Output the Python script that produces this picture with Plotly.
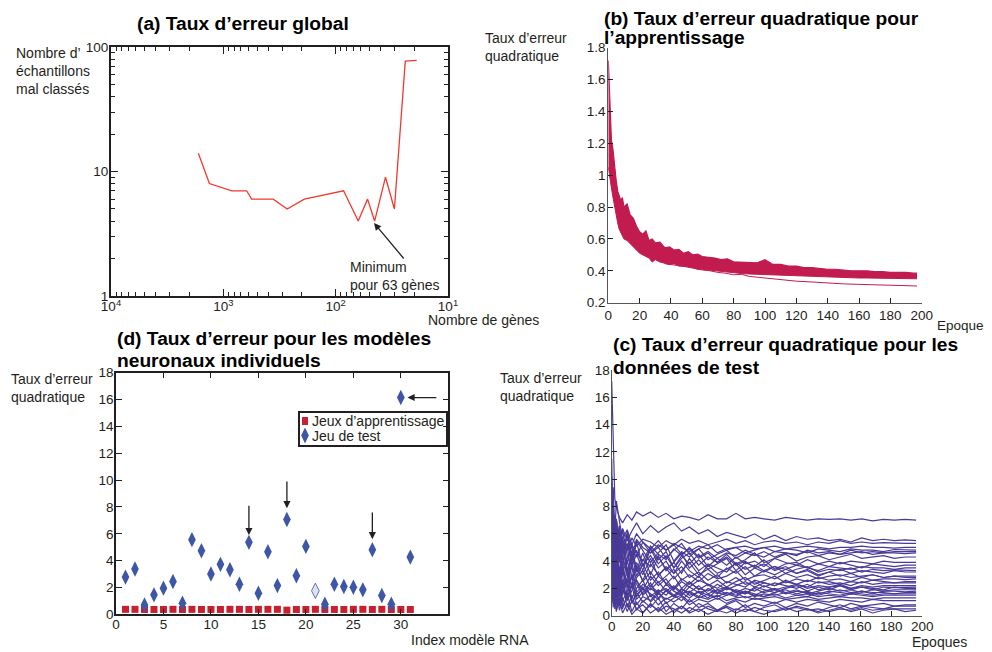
import plotly.graph_objects as go

W, H = 992, 652
OFF = 8  # page body margin of the viewer
FONT = "Liberation Sans, Arial, Helvetica, sans-serif"
INK = "#231f20"

# ---------------- (a) Taux d'erreur global ----------------
genes_a = [1670, 1330, 840, 620, 560, 360, 270, 190, 85, 63, 52, 45, 36, 30, 24, 19]
misclassified_a = [14, 8, 7, 7, 6, 6, 5, 6, 7, 4, 6, 4, 9, 5, 77, 78]
a_xtick_vals = [10000, 1000, 100, 10]
a_xtick_text = ["10<sup>4</sup>", "10<sup>3</sup>", "10<sup>2</sup>", "10<sup>1</sup>"]
a_ytick_vals = [1, 10, 100]
a_ytick_text = ["1", "10", "100"]

# ---------------- (b) apprentissage ----------------
epochs_b = [0, 1, 2, 3, 4, 5, 6, 7, 8, 9,
            10, 12, 14, 16, 18, 20, 22, 24, 26, 28,
            30, 33, 36, 39, 42, 45, 48, 51, 54, 57,
            60, 64, 68, 72, 76, 80, 85, 90, 95, 100,
            105, 110, 115, 120, 125, 130, 135, 140, 145, 150,
            155, 160, 165, 170, 175, 180, 185, 190, 195, 197]
train_upper_b = [1.72, 1.40, 1.22, 1.16, 1.04, 0.97, 0.90, 0.87, 0.84, 0.86,
                 0.80, 0.82, 0.75, 0.73, 0.68, 0.645, 0.63, 0.65, 0.59, 0.60,
                 0.575, 0.58, 0.545, 0.55, 0.53, 0.535, 0.51, 0.52, 0.50, 0.505,
                 0.49, 0.485, 0.48, 0.47, 0.475, 0.457, 0.455, 0.45, 0.45, 0.47,
                 0.44, 0.44, 0.43, 0.43, 0.42, 0.42, 0.415, 0.41, 0.41, 0.405,
                 0.40, 0.40, 0.40, 0.395, 0.395, 0.39, 0.39, 0.39, 0.385, 0.385]
train_lower_b = [1.05, 0.97, 0.92, 0.86, 0.80, 0.74, 0.70, 0.66, 0.64, 0.63,
                 0.60, 0.59, 0.57, 0.55, 0.53, 0.51, 0.50, 0.49, 0.48, 0.455,
                 0.47, 0.455, 0.445, 0.44, 0.445, 0.43, 0.43, 0.425, 0.42, 0.41,
                 0.41, 0.405, 0.40, 0.395, 0.39, 0.385, 0.383, 0.38, 0.378, 0.375,
                 0.373, 0.371, 0.369, 0.367, 0.366, 0.365, 0.362, 0.36, 0.36, 0.358,
                 0.357, 0.355, 0.355, 0.354, 0.353, 0.352, 0.352, 0.351, 0.35, 0.35]
epochs_b_low = [36, 40, 45, 50, 55, 60, 65, 70, 75, 80, 85, 90, 95, 100, 105,
                110, 120, 130, 140, 150, 160, 170, 180, 190, 197]
train_low_b = [0.445, 0.44, 0.43, 0.425, 0.415, 0.405, 0.40, 0.39, 0.385, 0.375,
               0.378, 0.365, 0.36, 0.355, 0.35, 0.345, 0.335, 0.33, 0.322, 0.318,
               0.315, 0.312, 0.31, 0.307, 0.305]
b_xtick_vals = [0, 20, 40, 60, 80, 100, 120, 140, 160, 180, 200]
b_ytick_vals = [0.2, 0.4, 0.6, 0.8, 1.0, 1.2, 1.4, 1.6, 1.8]
b_ytick_text = ["0.2", "0.4", "0.6", "0.8", "1", "1.2", "1.4", "1.6", "1.8"]

# ---------------- (c) test ----------------
epochs_c = [0, 1, 2, 3, 5, 7, 10, 13, 16, 20,
            25, 30, 35, 40, 45, 50, 56, 62, 68, 74,
            80, 86, 92, 98, 105, 112, 119, 126, 133, 140,
            147, 154, 161, 168, 175, 182, 189, 196]
test_c01 = [17.2, 12.5, 8.6, 7.9, 7.2, 6.8, 7.4, 7.0, 7.6, 7.3,
            7.6, 7.2, 7.5, 7.1, 7.3, 7.2, 7.0, 7.4, 7.1, 7.1,
            7.5, 7.1, 7.2, 7.1, 7.0, 7.2, 7.1, 7.0, 7.1, 7.05,
            7.1, 7.0, 7.1, 6.95, 7.05, 7.0, 7.05, 7.0]
test_c02 = [9.3, 7.5, 6.1, 7.0, 5.8, 6.4, 5.5, 6.2, 6.8, 6.0,
            6.6, 6.1, 6.5, 6.8, 6.2, 6.5, 6.0, 6.3, 5.8, 6.1,
            5.9, 5.7, 6.0, 5.6, 5.9, 5.5, 5.8, 5.6, 5.7, 5.5,
            5.6, 5.4, 5.7, 5.5, 5.6, 5.5, 5.55, 5.5]
test_c03 = [7.5, 5.5, 6.8, 4.6, 6.3, 5.2, 4.8, 5.7, 5.1, 5.6,
            5.4, 5.0, 5.5, 5.2, 5.6, 5.3, 5.5, 5.2, 5.4, 5.6,
            5.3, 5.5, 5.2, 5.4, 5.5, 5.3, 5.4, 5.2, 5.4, 5.3,
            5.5, 5.3, 5.4, 5.3, 5.35, 5.3, 5.3, 5.3]
test_c04 = [8.2, 6.0, 4.1, 5.5, 6.6, 4.7, 5.3, 4.4, 5.6, 5.0,
            4.6, 5.2, 4.8, 5.3, 5.0, 4.7, 5.1, 4.9, 5.2, 4.8,
            5.0, 5.1, 4.9, 5.0, 5.1, 4.9, 5.0, 5.1, 5.0, 4.9,
            5.0, 5.0, 5.1, 5.0, 5.0, 4.95, 5.0, 5.0]
test_c05 = [6.2, 7.8, 5.1, 3.5, 5.7, 4.2, 6.0, 4.9, 4.3, 5.4,
            4.6, 5.0, 4.2, 4.8, 5.3, 4.5, 4.9, 5.2, 4.6, 4.9,
            5.0, 4.6, 4.8, 5.0, 4.7, 4.9, 4.8, 4.6, 4.9, 4.8,
            4.7, 4.9, 4.8, 4.8, 4.7, 4.85, 4.8, 4.8]
test_c06 = [5.3, 3.9, 6.2, 7.1, 4.5, 5.8, 3.8, 5.2, 4.6, 4.0,
            5.1, 4.5, 4.1, 4.9, 4.4, 5.0, 4.3, 4.7, 4.2, 4.6,
            4.4, 4.8, 4.5, 4.3, 4.7, 4.6, 4.4, 4.8, 4.6, 4.7,
            4.5, 4.8, 4.6, 4.7, 4.6, 4.7, 4.7, 4.7]
test_c07 = [4.2, 9.4, 5.8, 3.2, 4.9, 6.3, 4.4, 3.6, 5.5, 4.8,
            3.9, 4.6, 5.2, 4.0, 4.7, 4.3, 4.9, 4.1, 4.5, 4.8,
            4.2, 4.6, 4.4, 4.7, 4.3, 4.6, 4.5, 4.7, 4.4, 4.6,
            4.5, 4.6, 4.7, 4.5, 4.6, 4.6, 4.55, 4.6]
test_c08 = [10.2, 6.6, 3.4, 5.4, 3.0, 4.8, 5.9, 3.7, 4.5, 3.3,
            4.9, 3.8, 4.4, 3.5, 4.2, 4.6, 3.7, 4.3, 3.9, 4.5,
            3.8, 4.1, 4.6, 3.9, 4.2, 4.5, 4.0, 4.3, 4.4, 4.1,
            4.3, 4.5, 4.2, 4.3, 4.4, 4.2, 4.3, 4.3]
test_c09 = [6.8, 4.4, 2.6, 5.0, 6.1, 3.1, 4.3, 5.3, 3.2, 4.1,
            3.6, 4.4, 3.3, 3.9, 4.6, 3.5, 4.1, 3.4, 3.8, 4.2,
            3.3, 3.9, 3.6, 4.1, 3.4, 3.8, 3.9, 3.5, 3.8, 3.6,
            3.9, 3.7, 3.5, 3.8, 3.7, 3.6, 3.7, 3.7]
test_c10 = [3.6, 5.2, 7.4, 4.1, 2.4, 3.8, 5.1, 2.7, 3.9, 3.0,
            4.2, 2.9, 3.6, 3.1, 4.0, 3.3, 2.8, 3.7, 3.1, 3.4,
            3.8, 3.0, 3.5, 3.2, 3.6, 3.1, 3.4, 3.6, 3.2, 3.4,
            3.3, 3.5, 3.2, 3.4, 3.3, 3.35, 3.3, 3.3]
test_c11 = [8.9, 3.3, 4.7, 2.2, 5.6, 3.5, 2.4, 4.6, 3.4, 2.6,
            3.8, 3.0, 3.5, 2.7, 3.3, 3.9, 3.0, 3.4, 2.8, 3.5,
            3.1, 3.6, 2.9, 3.3, 3.0, 3.4, 3.1, 3.3, 2.9, 3.2,
            3.4, 3.1, 3.3, 3.2, 3.1, 3.3, 3.2, 3.2]
test_c12 = [2.5, 6.9, 3.9, 5.8, 2.3, 4.4, 3.0, 2.2, 3.7, 2.5,
            3.2, 2.4, 2.9, 3.4, 2.6, 3.0, 2.5, 3.1, 2.7, 2.9,
            3.3, 2.6, 2.9, 3.0, 2.7, 3.1, 2.8, 3.0, 2.7, 2.9,
            3.0, 2.8, 2.9, 3.0, 2.8, 2.9, 2.9, 2.9]
test_c13 = [5.9, 2.1, 3.2, 1.6, 3.6, 2.2, 4.1, 2.0, 2.8, 3.3,
            2.1, 2.9, 2.4, 2.0, 2.7, 2.3, 2.9, 2.2, 2.6, 2.1,
            2.5, 2.8, 2.3, 2.6, 2.9, 2.4, 2.7, 2.5, 2.8, 2.6,
            2.7, 2.5, 2.8, 2.6, 2.7, 2.7, 2.65, 2.7]
test_c14 = [1.8, 4.6, 2.9, 6.4, 3.1, 1.5, 2.8, 3.6, 1.7, 2.3,
            1.9, 2.5, 1.8, 2.2, 1.7, 2.4, 2.0, 1.8, 2.3, 1.9,
            2.2, 2.5, 2.1, 2.4, 2.2, 2.6, 2.3, 2.1, 2.5, 2.3,
            2.4, 2.2, 2.5, 2.3, 2.4, 2.4, 2.35, 2.4]
test_c15 = [7.1, 4.0, 1.9, 2.8, 4.8, 2.0, 1.5, 3.0, 2.3, 1.6,
            2.2, 1.7, 2.0, 1.5, 1.9, 1.7, 2.2, 1.6, 1.9, 2.1,
            1.7, 2.0, 1.8, 2.2, 1.9, 2.1, 2.3, 2.0, 2.2, 2.1,
            2.3, 2.0, 2.2, 2.1, 2.2, 2.2, 2.2, 2.2]
test_c16 = [4.8, 1.2, 2.4, 3.9, 1.4, 2.6, 1.1, 1.9, 2.6, 1.5,
            2.0, 1.6, 2.3, 1.8, 1.5, 2.1, 1.7, 1.9, 1.6, 2.0,
            1.8, 1.6, 2.1, 1.9, 1.7, 2.0, 2.2, 1.8, 2.1, 1.9,
            2.2, 2.0, 2.1, 1.9, 2.1, 2.05, 2.1, 2.1]
test_c17 = [1.2, 3.0, 5.1, 2.0, 0.9, 3.2, 2.2, 1.3, 2.0, 2.6,
            1.4, 1.9, 1.5, 2.1, 1.6, 1.8, 1.4, 2.0, 1.7, 1.5,
            1.9, 1.7, 1.5, 1.8, 2.0, 1.7, 1.9, 1.6, 1.8, 2.0,
            1.8, 1.9, 1.7, 1.9, 1.8, 1.9, 1.9, 1.9]
test_c18 = [9.6, 2.7, 1.0, 4.4, 2.5, 1.1, 1.8, 2.9, 1.2, 1.7,
            2.4, 1.3, 1.8, 1.4, 2.0, 1.5, 1.7, 1.3, 1.9, 1.6,
            1.4, 1.8, 1.6, 1.4, 1.7, 1.9, 1.6, 1.8, 1.5, 1.7,
            1.9, 1.7, 1.8, 1.6, 1.8, 1.8, 1.75, 1.8]
test_c19 = [3.3, 8.2, 2.0, 0.8, 2.7, 1.6, 3.5, 1.0, 1.5, 2.1,
            1.0, 1.6, 1.2, 1.5, 1.1, 1.7, 1.3, 1.6, 1.2, 1.5,
            1.7, 1.3, 1.5, 1.4, 1.6, 1.3, 1.5, 1.6, 1.4, 1.5,
            1.4, 1.6, 1.5, 1.4, 1.5, 1.5, 1.5, 1.5]
test_c20 = [2.1, 0.6, 3.7, 1.4, 3.3, 0.7, 1.3, 2.2, 0.8, 1.4,
            1.1, 1.8, 0.9, 1.3, 1.5, 1.0, 1.4, 1.2, 1.5, 1.1,
            1.3, 1.4, 1.2, 1.3, 1.4, 1.2, 1.3, 1.4, 1.2, 1.3,
            1.4, 1.3, 1.3, 1.2, 1.3, 1.3, 1.3, 1.3]
test_c21 = [6.5, 1.7, 0.5, 2.3, 1.0, 2.4, 0.6, 1.5, 0.4, 1.1,
            0.6, 1.3, 0.3, 0.9, 0.5, 1.2, 0.6, 0.9, 0.4, 0.8,
            1.1, 0.6, 0.9, 0.7, 1.0, 0.6, 0.9, 0.7, 1.0, 0.8,
            0.6, 0.9, 0.7, 0.8, 0.9, 0.7, 0.8, 0.8]
test_c22 = [1.0, 2.8, 1.3, 0.3, 1.9, 0.5, 1.6, 0.3, 1.0, 0.2,
            0.8, 0.4, 1.0, 0.2, 0.7, 0.3, 0.9, 0.5, 0.3, 0.7,
            0.4, 0.8, 0.3, 0.6, 0.8, 0.4, 0.7, 0.5, 0.3, 0.6,
            0.8, 0.5, 0.7, 0.6, 0.5, 0.7, 0.7, 0.7]
test_c23 = [4.0, 0.9, 2.1, 0.4, 1.2, 0.2, 0.9, 0.1, 0.5, 0.8,
            0.2, 0.6, 0.1, 0.4, 0.7, 0.2, 0.5, 0.1, 0.4, 0.6,
            0.2, 0.5, 0.3, 0.1, 0.4, 0.6, 0.3, 0.5, 0.2, 0.4,
            0.6, 0.3, 0.5, 0.2, 0.4, 0.5, 0.3, 0.4]
test_c24 = [8.0, 7.2, 6.0, 8.4, 6.9, 5.6, 6.3, 5.2, 6.0, 5.4,
            4.9, 5.5, 4.8, 5.2, 4.5, 4.9, 4.2, 4.6, 3.9, 4.3,
            3.7, 4.0, 3.5, 3.8, 3.3, 3.6, 3.1, 3.4, 3.0, 3.2,
            2.9, 3.1, 2.8, 3.0, 2.8, 2.9, 2.8, 2.8]
test_c25 = [7.7, 5.4, 7.0, 5.0, 6.1, 4.6, 5.2, 4.1, 4.8, 3.7,
            4.4, 3.5, 4.0, 3.1, 3.6, 2.8, 3.2, 2.6, 3.0, 2.4,
            2.8, 2.3, 2.5, 2.1, 2.4, 2.2, 2.0, 2.3, 1.9, 2.1,
            2.2, 1.9, 2.1, 2.0, 1.9, 2.1, 2.0, 2.0]
test_c26 = [6.4, 8.7, 4.3, 6.2, 3.9, 5.3, 3.3, 4.5, 2.9, 3.8,
            2.6, 3.2, 2.3, 2.9, 2.0, 2.5, 1.9, 2.3, 1.7, 2.1,
            1.8, 1.6, 2.0, 1.7, 1.9, 1.6, 1.8, 1.7, 1.6, 1.8,
            1.7, 1.6, 1.8, 1.7, 1.7, 1.6, 1.7, 1.7]
test_c27 = [5.6, 8.1, 3.8, 6.6, 4.9, 3.4, 6.2, 4.0, 5.4, 3.6,
            5.0, 4.1, 4.7, 3.5, 4.4, 3.8, 4.5, 3.6, 4.2, 3.7,
            4.3, 3.8, 4.0, 3.6, 4.2, 3.9, 3.7, 4.1, 3.8, 4.0,
            3.8, 4.0, 3.9, 3.8, 4.0, 3.9, 3.9, 3.9]
test_c28 = [11.5, 4.9, 6.3, 2.8, 4.4, 5.6, 2.9, 4.8, 3.3, 4.6,
            3.0, 4.3, 3.4, 3.9, 3.1, 4.2, 3.3, 3.8, 3.5, 3.2,
            3.9, 3.4, 3.7, 3.3, 3.6, 3.4, 3.7, 3.5, 3.3, 3.6,
            3.5, 3.4, 3.6, 3.5, 3.5, 3.4, 3.5, 3.5]
test_c29 = [3.0, 6.1, 2.4, 4.2, 1.8, 3.4, 2.0, 3.8, 2.6, 1.9,
            2.9, 2.2, 2.7, 1.9, 2.5, 2.1, 2.6, 2.3, 2.0, 2.5,
            2.3, 2.1, 2.6, 2.4, 2.2, 2.5, 2.3, 2.6, 2.4, 2.5,
            2.3, 2.5, 2.4, 2.6, 2.5, 2.4, 2.5, 2.5]
test_c30 = [5.0, 2.3, 6.0, 1.5, 2.2, 4.0, 1.3, 2.4, 1.4, 2.0,
            1.6, 1.2, 1.9, 1.4, 1.7, 1.3, 1.8, 1.5, 1.4, 1.7,
            1.5, 1.8, 1.4, 1.6, 1.5, 1.7, 1.5, 1.4, 1.7, 1.6,
            1.5, 1.7, 1.6, 1.5, 1.6, 1.6, 1.6, 1.6]
test_c31 = [2.6, 5.5, 1.2, 3.0, 0.7, 1.8, 2.6, 0.9, 1.7, 1.0,
            1.5, 0.8, 1.3, 1.0, 1.4, 0.8, 1.2, 1.0, 1.3, 0.9,
            1.2, 1.0, 1.3, 1.1, 0.9, 1.2, 1.0, 1.2, 1.1, 1.0,
            1.2, 1.1, 1.0, 1.2, 1.1, 1.1, 1.1, 1.1]
test_c32 = [7.9, 2.4, 0.9, 1.6, 0.4, 1.3, 0.3, 1.1, 0.5, 0.2,
            0.9, 0.3, 0.7, 0.5, 0.2, 0.6, 0.3, 0.7, 0.4, 0.2,
            0.5, 0.3, 0.6, 0.4, 0.3, 0.5, 0.6, 0.4, 0.5, 0.3,
            0.5, 0.4, 0.6, 0.4, 0.5, 0.5, 0.5, 0.5]
test_curves_c = [test_c01, test_c02, test_c03, test_c04, test_c05, test_c06, test_c07,
                 test_c08, test_c09, test_c10, test_c11, test_c12, test_c13, test_c14,
                 test_c15, test_c16, test_c17, test_c18, test_c19, test_c20, test_c21,
                 test_c22, test_c23, test_c24, test_c25, test_c26, test_c27, test_c28,
                 test_c29, test_c30, test_c31, test_c32]
c_xtick_vals = [0, 20, 40, 60, 80, 100, 120, 140, 160, 180, 200]
c_ytick_vals = [0, 2, 4, 6, 8, 10, 12, 14, 16, 18]

# ---------------- (d) modèles individuels ----------------
model_index_d = [1, 2, 3, 4, 5, 6, 7, 8, 9, 10, 11, 12, 13, 14, 15, 16,
                 17, 18, 19, 20, 21, 22, 23, 24, 25, 26, 27, 28, 29, 30, 31]
train_err_d = [0.37, 0.37, 0.36, 0.36, 0.36, 0.37, 0.36, 0.37, 0.36, 0.36, 0.36,
               0.37, 0.37, 0.36, 0.37, 0.37, 0.37, 0.31, 0.36, 0.36, 0.37, 0.36,
               0.36, 0.36, 0.37, 0.37, 0.36, 0.37, 0.36, 0.36, 0.36]
test_err_d = [2.77, 3.37, 0.70, 1.45, 1.95, 2.44, 0.82, 5.56, 4.74, 3.00, 3.72,
              3.32, 2.24, 5.36, 1.57, 4.66, 2.14, 7.06, 2.87, 5.06, 1.75, 0.75,
              2.24, 2.07, 2.02, 1.82, 4.81, 1.40, 0.75, 16.15, 4.26]
d_xtick_vals = [0, 5, 10, 15, 20, 25, 30]
d_ytick_vals = [0, 2, 4, 6, 8, 10, 12, 14, 16, 18]
legend_labels_d = ["Jeux d\u2019apprentissage", "Jeu de test"]

# ---------------- colours ----------------
RED_A = "#f03a2e"
CRIMSON = "#c21b4f"
PURPLE = "#4a3a98"
BLUE = "#3d56a6"
RED_D = "#c8202e"


def px(x):
    return (x - OFF) / W


def py(y):
    return 1 - (y - OFF) / H


fig = go.Figure()

# (a)
fig.add_trace(go.Scatter(x=genes_a, y=misclassified_a, mode="lines",
                         line=dict(color=RED_A, width=1.3), xaxis="x", yaxis="y"))

# (b)
fig.add_trace(go.Scatter(x=epochs_b, y=train_lower_b, mode="lines",
                         line=dict(color=CRIMSON, width=1), xaxis="x2", yaxis="y2"))
fig.add_trace(go.Scatter(x=epochs_b, y=train_upper_b, mode="lines", fill="tonexty",
                         fillcolor=CRIMSON, line=dict(color=CRIMSON, width=1.2),
                         xaxis="x2", yaxis="y2"))
fig.add_trace(go.Scatter(x=epochs_b_low, y=train_low_b, mode="lines",
                         line=dict(color=CRIMSON, width=1), xaxis="x2", yaxis="y2"))

# (c)
for curve in test_curves_c:
    fig.add_trace(go.Scatter(x=epochs_c, y=curve, mode="lines",
                             line=dict(color=PURPLE, width=1.2), xaxis="x3", yaxis="y3"))

# (d)
fig.add_trace(go.Scatter(x=model_index_d, y=train_err_d, mode="markers",
                         marker=dict(symbol="square", size=7, color=RED_D),
                         xaxis="x4", yaxis="y4", cliponaxis=False))
test_fill = ["#dfe3f2" if i == 21 else BLUE for i in model_index_d]
test_line_w = [0.8 if i == 21 else 0 for i in model_index_d]
fig.add_trace(go.Scatter(x=model_index_d, y=test_err_d, mode="markers",
                         marker=dict(symbol="diamond-tall", size=11, color=test_fill,
                                     line=dict(color=BLUE, width=test_line_w)),
                         xaxis="x4", yaxis="y4", cliponaxis=False))

tickfont = dict(family=FONT, size=13.5, color=INK)
base = dict(showgrid=False, zeroline=False, tickfont=tickfont, ticks="inside",
            tickcolor=INK, tickwidth=1, automargin=False)

a_xminor = [m * 10 ** k for k in (1, 2, 3) for m in range(2, 10)]
a_yminor = [m * 10 ** k for k in (0, 1) for m in range(2, 10)]

fig.update_layout(
    template="none",
    width=W, height=H, margin=dict(l=0, r=0, t=0, b=0, pad=0, autoexpand=False),
    paper_bgcolor="white", plot_bgcolor="white", showlegend=False,
    font=dict(family=FONT, color=INK),
    xaxis=dict(base, domain=[px(111), px(448)], anchor="y", type="log", range=[4, 1],
               tickmode="array", tickvals=a_xtick_vals, ticktext=a_xtick_text,
               ticklen=7, showline=True, linewidth=2, linecolor=INK, mirror="allticks",
               ticklabelstandoff=-3,
               minor=dict(tickmode="array", tickvals=a_xminor, ticks="inside",
                          ticklen=4, tickcolor=INK)),
    yaxis=dict(base, domain=[py(296), py(47)], anchor="x", type="log", range=[0, 2],
               tickmode="array", tickvals=a_ytick_vals, ticktext=a_ytick_text,
               ticklen=7, showline=True, linewidth=2, linecolor=INK, mirror="allticks",
               ticklabelstandoff=-2,
               minor=dict(tickmode="array", tickvals=a_yminor, ticks="inside",
                          ticklen=4, tickcolor=INK)),
    xaxis2=dict(base, domain=[px(608.3), px(921.7)], anchor="y2", range=[0, 200],
                tickmode="array", tickvals=b_xtick_vals, ticklen=5,
                showline=True, linewidth=1.2, linecolor="#555"),
    yaxis2=dict(base, domain=[py(302.7), py(47.7)], anchor="x2", range=[0.2, 1.8],
                tickmode="array", tickvals=b_ytick_vals, ticktext=b_ytick_text, ticklen=5,
                showline=True, linewidth=1.2, linecolor="#555", ticklabelstandoff=-1),
    xaxis3=dict(base, domain=[px(611.7), px(922.3)], anchor="y3", range=[0, 200],
                tickmode="array", tickvals=c_xtick_vals, ticklen=5,
                showline=True, linewidth=1.2, linecolor="#555", ticklabelstandoff=-2),
    yaxis3=dict(base, domain=[py(615.7), py(370)], anchor="x3", range=[0, 18],
                tickmode="array", tickvals=c_ytick_vals, ticklen=5,
                showline=True, linewidth=1.2, linecolor="#555", ticklabelstandoff=-2),
    xaxis4=dict(base, domain=[px(116), px(448.3)], anchor="y4", range=[0, 35],
                tickmode="array", tickvals=d_xtick_vals, ticklen=6,
                showline=True, linewidth=1.5, linecolor=INK, mirror="allticks",
                ticklabelstandoff=-3),
    yaxis4=dict(base, domain=[py(614.3), py(372.7)], anchor="x4", range=[0, 18],
                tickmode="array", tickvals=d_ytick_vals, ticklen=6,
                showline=True, linewidth=1.5, linecolor=INK, mirror="allticks",
                ticklabelstandoff=-2),
)

TXT = dict(family=FONT, size=14, color=INK)
TTL = dict(family=FONT, size=19.2, color="black")
ann = []


def text(x, y, s, font=TXT, xa="left", ya="middle", align="left"):
    ann.append(dict(x=px(x), y=py(y), xref="paper", yref="paper", text=s, showarrow=False,
                    xanchor=xa, yanchor=ya, align=align, font=font))


# titles
text(243, 24, "<b>(a) Taux d\u2019erreur global</b>", TTL, xa="center")
text(602, 18, "<b>(b) Taux d\u2019erreur quadratique pour</b>", TTL)
text(602, 38, "<b>l\u2019apprentissage</b>", TTL)
text(611, 344, "<b>(c) Taux d\u2019erreur quadratique pour les</b>", TTL)
text(611, 367, "<b>donn\u00e9es de test</b>", TTL)
text(115, 338, "<b>(d) Taux d\u2019erreur pour les mod\u00e8les</b>", TTL)
text(115, 360, "<b>neuronaux individuels</b>", TTL)

# axis labels
text(14, 43, "Nombre d\u2019<br>\u00e9chantillons<br>mal class\u00e9s", ya="top")
text(426, 320, "Nombre de g\u00e8nes")
text(483, 28, "Taux d\u2019erreur<br>quadratique", ya="top")
text(935, 325, "Epoques", dict(TXT, size=13.5))
text(497.5, 368, "Taux d\u2019erreur<br>quadratique", ya="top")
text(910, 642, "Epoques")
text(9, 369, "Taux d\u2019erreur<br>quadratique", ya="top")
text(409, 640, "Index mod\u00e8le RNA")

# (a) minimum annotation
text(348, 257, "Minimum<br>pour 63 g\u00e8nes", ya="top")
ann.append(dict(x=px(374), y=py(223), xref="paper", yref="paper", text="", showarrow=True,
                ax=31, ay=37, arrowhead=2, arrowsize=1.1, arrowwidth=1.3, arrowcolor=INK))

# (d) arrows
for (xt, yt, xs, ys) in [(14, 5.9, 14, 8.2), (18, 7.9, 18, 10.0), (27, 5.6, 27, 7.7),
                         (30.7, 16.15, 33.9, 16.15)]:
    ann.append(dict(x=xt, y=yt, xref="x4", yref="y4", ax=xs, ay=ys, axref="x4", ayref="y4",
                    text="", showarrow=True, arrowhead=2, arrowsize=1.1, arrowwidth=1.3,
                    arrowcolor=INK))

# (d) legend text
text(309.5, 421, legend_labels_d[0])
text(309.5, 436, legend_labels_d[1])

fig.update_layout(annotations=ann)

# (d) legend box and symbols
shapes = [
    dict(type="rect", xref="paper", yref="paper", x0=px(299), x1=px(447), y0=py(446),
         y1=py(412), line=dict(color=INK, width=2), fillcolor="rgba(0,0,0,0)"),
    dict(type="rect", xref="paper", yref="paper", x0=px(302), x1=px(308), y0=py(425),
         y1=py(417), line=dict(width=0), fillcolor=RED_D),
    dict(type="path", xref="paper", yref="paper",
         path="M %f,%f L %f,%f L %f,%f L %f,%f Z" % (
             px(305), py(427.5), px(308.8), py(435.5), px(305), py(443.5),
             px(301.2), py(435.5)),
         line=dict(width=0), fillcolor=BLUE),
]
fig.update_layout(shapes=shapes)

fig.write_html("out.html")
